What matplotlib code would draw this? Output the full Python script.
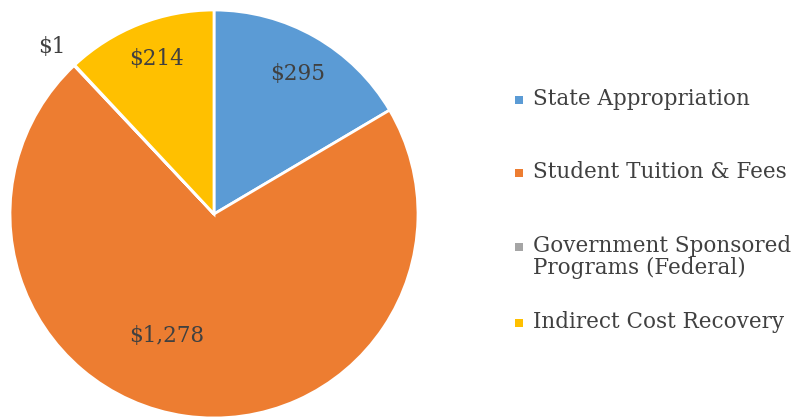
import numpy as np
import matplotlib.pyplot as plt
from matplotlib.patches import Rectangle

# revenue sources
categories = ["State Appropriation", "Student Tuition & Fees",
              "Government Sponsored\nPrograms (Federal)", "Indirect Cost Recovery"]
values = [295, 1278, 1, 214]
value_labels = ["$295", "$1,278", "$1", "$214"]
colors = ["#5B9BD5", "#ED7D31", "#A5A5A5", "#FFC000"]

# label placement (radius, angle nudge in degrees) per wedge
label_radius = [0.80, 0.64, 1.14, 0.81]
label_nudge = [-1.0, -13.0, 1.0, -1.0]

# legend rows (pixel y of first text line, from top)
legend_y = [100, 173, 247, 323]

plt.rcParams['font.family'] = ['DejaVu Serif']
FS = 15.5
TXT = "#404040"

fig = plt.figure(figsize=(7.94, 4.2), dpi=100)
ax = fig.add_axes([10 / 794, 2 / 420, 408 / 794, 408 / 420])

wedges, _ = ax.pie(values, colors=colors, startangle=90, counterclock=False,
                   wedgeprops=dict(edgecolor="white", linewidth=2))
ax.set_xlim(-1, 1)
ax.set_ylim(-1, 1)
ax.set_aspect("equal")
ax.axis("off")

for w, lab, r, dn in zip(wedges, value_labels, label_radius, label_nudge):
    ang = np.deg2rad((w.theta1 + w.theta2) / 2 + dn)
    ax.text(r * np.cos(ang), r * np.sin(ang), lab, ha="center", va="center",
            fontsize=FS, color=TXT, clip_on=False)

# legend drawn in a pixel-coordinate overlay (y grows downwards)
lg = fig.add_axes([0, 0, 1, 1])
lg.set_xlim(0, 794)
lg.set_ylim(420, 0)
lg.axis("off")
for name, c, y in zip(categories, colors, legend_y):
    lg.add_patch(Rectangle((515, y - 4), 8, 8, facecolor=c, edgecolor="none"))
    lg.text(533, y - 12, name, ha="left", va="top",
            fontsize=FS, color=TXT, linespacing=1.0)

fig.savefig("out.png", dpi=100)
